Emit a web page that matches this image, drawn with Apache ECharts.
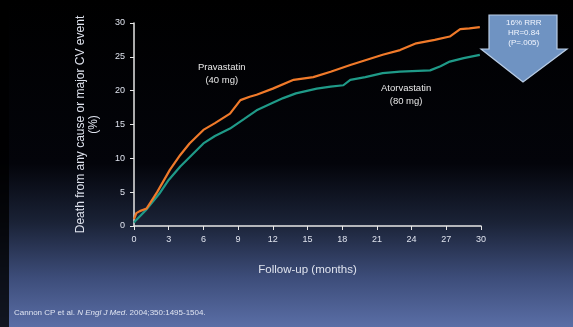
<!DOCTYPE html>
<html><head><meta charset="utf-8">
<script src="https://cdn.jsdelivr.net/npm/echarts@6/dist/echarts.min.js"></script>
<style>html,body{margin:0;padding:0;background:#000;}#c{width:573px;height:327px;}</style>
</head><body><div id="c"></div>
<script>
const xTicks = [0, 3, 6, 9, 12, 15, 18, 21, 24, 27, 30];
const yTicks = [0, 5, 10, 15, 20, 25, 30];
const pravaMonths = [0, 0.2, 0.5, 1.1, 2, 3.1, 4, 4.8, 6, 7, 8.3, 9.2, 10, 10.6, 12, 13.8, 15.5, 17, 18.7, 20, 21.5, 23, 24.4, 26, 27.3, 28.2, 29, 29.9];
const pravaValues = [1.0, 1.9, 2.2, 2.6, 5.0, 8.3, 10.5, 12.2, 14.2, 15.2, 16.6, 18.6, 19.1, 19.4, 20.3, 21.6, 22.0, 22.8, 23.8, 24.5, 25.3, 26.0, 27.0, 27.5, 28.0, 29.1, 29.2, 29.4];
const atorvaMonths = [0, 0.2, 1, 2.2, 3, 4, 5, 6, 7, 8.3, 9.5, 10.6, 12, 12.9, 14, 15.8, 17, 18.1, 18.7, 20, 21.5, 23, 25.6, 26.5, 27.3, 28.5, 29.9];
const atorvaValues = [0.5, 0.9, 2.3, 4.8, 6.8, 8.8, 10.5, 12.2, 13.3, 14.4, 15.8, 17.1, 18.2, 18.9, 19.6, 20.3, 20.6, 20.8, 21.6, 22.0, 22.6, 22.8, 23.0, 23.6, 24.3, 24.8, 25.3];
const seriesNames = ['Pravastatin\n(40 mg)', 'Atorvastatin\n(80 mg)'];
const yTitle = 'Death from any cause or major CV event\n(%)';
const xTitle = 'Follow-up (months)';
const effectText = '16% RRR\nHR=0.84\n(P=.005)';

const chart = echarts.init(document.getElementById('c'), null, {renderer: 'canvas'});
const font = 'Liberation Sans';
const pairs = (xs, ys) => xs.map((x, i) => [x, ys[i]]);
chart.setOption({
  backgroundColor: {
    type: 'linear', x: 0, y: 0, x2: 0, y2: 1,
    colorStops: [
      {offset: 0, color: '#000000'},
      {offset: 0.5, color: '#03040a'},
      {offset: 0.68, color: '#1a2236'},
      {offset: 0.85, color: '#3d4d7a'},
      {offset: 1, color: '#5a6ea6'}
    ]
  },
  textStyle: {fontFamily: font},
  animation: false,
  grid: {left: 134, right: 92, top: 23, bottom: 101, containLabel: false},
  xAxis: {
    type: 'value', min: 0, max: 30, interval: 3,
    axisLine: {show: true, lineStyle: {color: '#e6e6e6', width: 1.5}},
    axisTick: {show: true, length: 4, lineStyle: {color: '#e6e6e6'}},
    axisLabel: {color: '#dfe3ee', fontSize: 9, margin: 9},
    splitLine: {show: false},
    name: xTitle, nameLocation: 'middle', nameGap: 38,
    nameTextStyle: {color: '#dfe3ee', fontSize: 11.5}
  },
  yAxis: {
    type: 'value', min: 0, max: 30, interval: 5,
    axisLine: {show: true, lineStyle: {color: '#e6e6e6', width: 1.5}},
    axisTick: {show: true, length: 4, lineStyle: {color: '#e6e6e6'}},
    axisLabel: {color: '#dfe3ee', fontSize: 9, margin: 9},
    splitLine: {show: false},
    name: yTitle, nameLocation: 'middle', nameGap: 34, nameRotate: 90,
    nameTextStyle: {color: '#dfe3ee', fontSize: 12, lineHeight: 13, align: 'center'}
  },
  series: [
    {name: seriesNames[0], type: 'line', data: pairs(pravaMonths, pravaValues), showSymbol: false,
     lineStyle: {color: '#f07a2a', width: 2.2}, z: 3},
    {name: seriesNames[1], type: 'line', data: pairs(atorvaMonths, atorvaValues), showSymbol: false,
     lineStyle: {color: '#1f9a88', width: 2.2}, z: 2}
  ],
  graphic: [
    {type: 'rect', left: 0, top: 0, shape: {width: 9, height: 327}, style: {fill: 'rgba(0,0,0,0.8)'}, z: -1},
    {type: 'text', left: 198, top: 61, style: {text: seriesNames[0], fill: '#e8e8e8', font: '9.5px ' + font, textAlign: 'center', lineHeight: 13}},
    {type: 'text', left: 381, top: 82, style: {text: seriesNames[1], fill: '#e8e8e8', font: '9.5px ' + font, textAlign: 'center', lineHeight: 13}},
    {type: 'polygon', shape: {points: [[489, 15], [557, 15], [557, 49], [567, 49], [523, 82], [481, 49], [489, 49]]},
     style: {fill: '#6f93c2', stroke: '#b9cde6', lineWidth: 1.2}},
    {type: 'text', left: 506, top: 18, style: {text: effectText, fill: '#f2f6ff', font: '8px ' + font, textAlign: 'center', lineHeight: 10}},
    {type: 'text', left: 14, top: 309, style: {
      rich: {n: {fill: '#dfe4f2', font: '8px ' + font}, i: {fill: '#dfe4f2', font: 'italic 8px ' + font}},
      text: '{n|Cannon CP et al. }{i|N Engl J Med}{n|. 2004;350:1495-1504.}'}}
  ]
});
</script></body></html>
